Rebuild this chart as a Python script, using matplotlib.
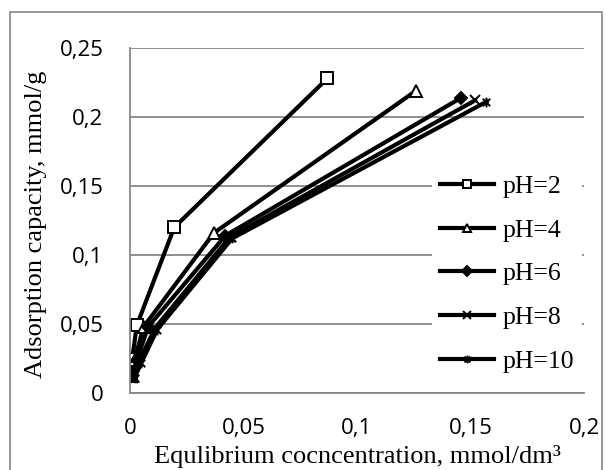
import matplotlib
matplotlib.use('Agg')
import matplotlib.pyplot as plt
from matplotlib.patches import Rectangle
from matplotlib.path import Path
from matplotlib.ticker import FuncFormatter

# Equilibrium concentration (mmol/dm3) and adsorption capacity (mmol/g)
ph_labels = ['pH=2', 'pH=4', 'pH=6', 'pH=8', 'pH=10']
x_ph2 = [0.0005, 0.001, 0.003, 0.0195, 0.087]
y_ph2 = [0.012, 0.025, 0.049, 0.120, 0.228]
x_ph4 = [0.001, 0.002, 0.006, 0.037, 0.126]
y_ph4 = [0.012, 0.024, 0.048, 0.116, 0.219]
x_ph6 = [0.001, 0.003, 0.008, 0.042, 0.146]
y_ph6 = [0.012, 0.024, 0.048, 0.114, 0.214]
x_ph8 = [0.0015, 0.004, 0.011, 0.044, 0.152]
y_ph8 = [0.011, 0.023, 0.047, 0.113, 0.212]
x_ph10 = [0.002, 0.005, 0.012, 0.045, 0.157]
y_ph10 = [0.011, 0.022, 0.046, 0.112, 0.211]

series = [(x_ph2, y_ph2), (x_ph4, y_ph4), (x_ph6, y_ph6),
          (x_ph8, y_ph8), (x_ph10, y_ph10)]

# excel-like asterisk: x with a vertical bar
star = Path([(-1, -1), (1, 1), (-1, 1), (1, -1), (0, -1.3), (0, 1.3)],
            [Path.MOVETO, Path.LINETO, Path.MOVETO, Path.LINETO,
             Path.MOVETO, Path.LINETO])
markers = [('s', 'white', 8), ('^', 'white', 8), ('D', 'black', 6.5),
           ('x', 'black', 7), (star, 'black', 7)]

grey = '#878787'

fig = plt.figure(figsize=(6.06, 4.70), dpi=100)
ax = fig.add_axes([0.2145, 0.1638, 0.7492, 0.7342])

for (xs, ys), lab, (m, fc, ms) in zip(series, ph_labels, markers):
    ax.plot(xs, ys, color='black', lw=3, marker=m, ms=ms,
            mfc=fc, mec='black', mew=1.4, label=lab)

ax.set_xlim(0, 0.2)
ax.set_ylim(0, 0.25)
ax.set_xticks([0, 0.05, 0.1, 0.15, 0.2])
ax.set_yticks([0, 0.05, 0.1, 0.15, 0.2, 0.25])


def comma(v, pos):
    s = ('%.2f' % v).rstrip('0').rstrip('.')
    return s.replace('.', ',')


ax.xaxis.set_major_formatter(FuncFormatter(comma))
ax.yaxis.set_major_formatter(FuncFormatter(comma))
ax.tick_params(length=0, labelsize=16)
ax.tick_params(axis='x', pad=18)
ax.tick_params(axis='y', pad=19)
for t in ax.get_xticklabels() + ax.get_yticklabels():
    t.set_family('Open Sans')

ax.grid(axis='y', color=grey, lw=1.3)
ax.set_axisbelow(True)
for s in ['top', 'right']:
    ax.spines[s].set_visible(False)
for s in ['left', 'bottom']:
    ax.spines[s].set_color(grey)
    ax.spines[s].set_linewidth(1.3)

ax.set_ylabel('Adsorption capacity, mmol/g', family='Liberation Serif',
              fontsize=19)
ax.yaxis.set_label_coords(-0.207, 0.49)
ax.yaxis.label.set_va('center')
ax.set_xlabel('Equlibrium cocncentration, mmol/dm\u00b3',
              family='Liberation Serif', fontsize=19)
ax.xaxis.set_label_coords(0.5, -0.204)
ax.xaxis.label.set_va('baseline')

leg = ax.legend(loc='center left', bbox_to_anchor=(0.665, 0.345),
                frameon=True, fancybox=False, edgecolor='none',
                facecolor='white', framealpha=1,
                prop={'family': 'Liberation Serif', 'size': 18.5},
                handlelength=2.1, labelspacing=0.8, handletextpad=0.35,
                borderpad=0.3, borderaxespad=0, markerscale=0.8)

fig.patches.append(Rectangle((10 / 606, -0.05), 592 / 606, 1.05 - 12 / 470,
                             transform=fig.transFigure, fill=False,
                             edgecolor=grey, lw=1.2))

fig.savefig('out.png', dpi=100)
